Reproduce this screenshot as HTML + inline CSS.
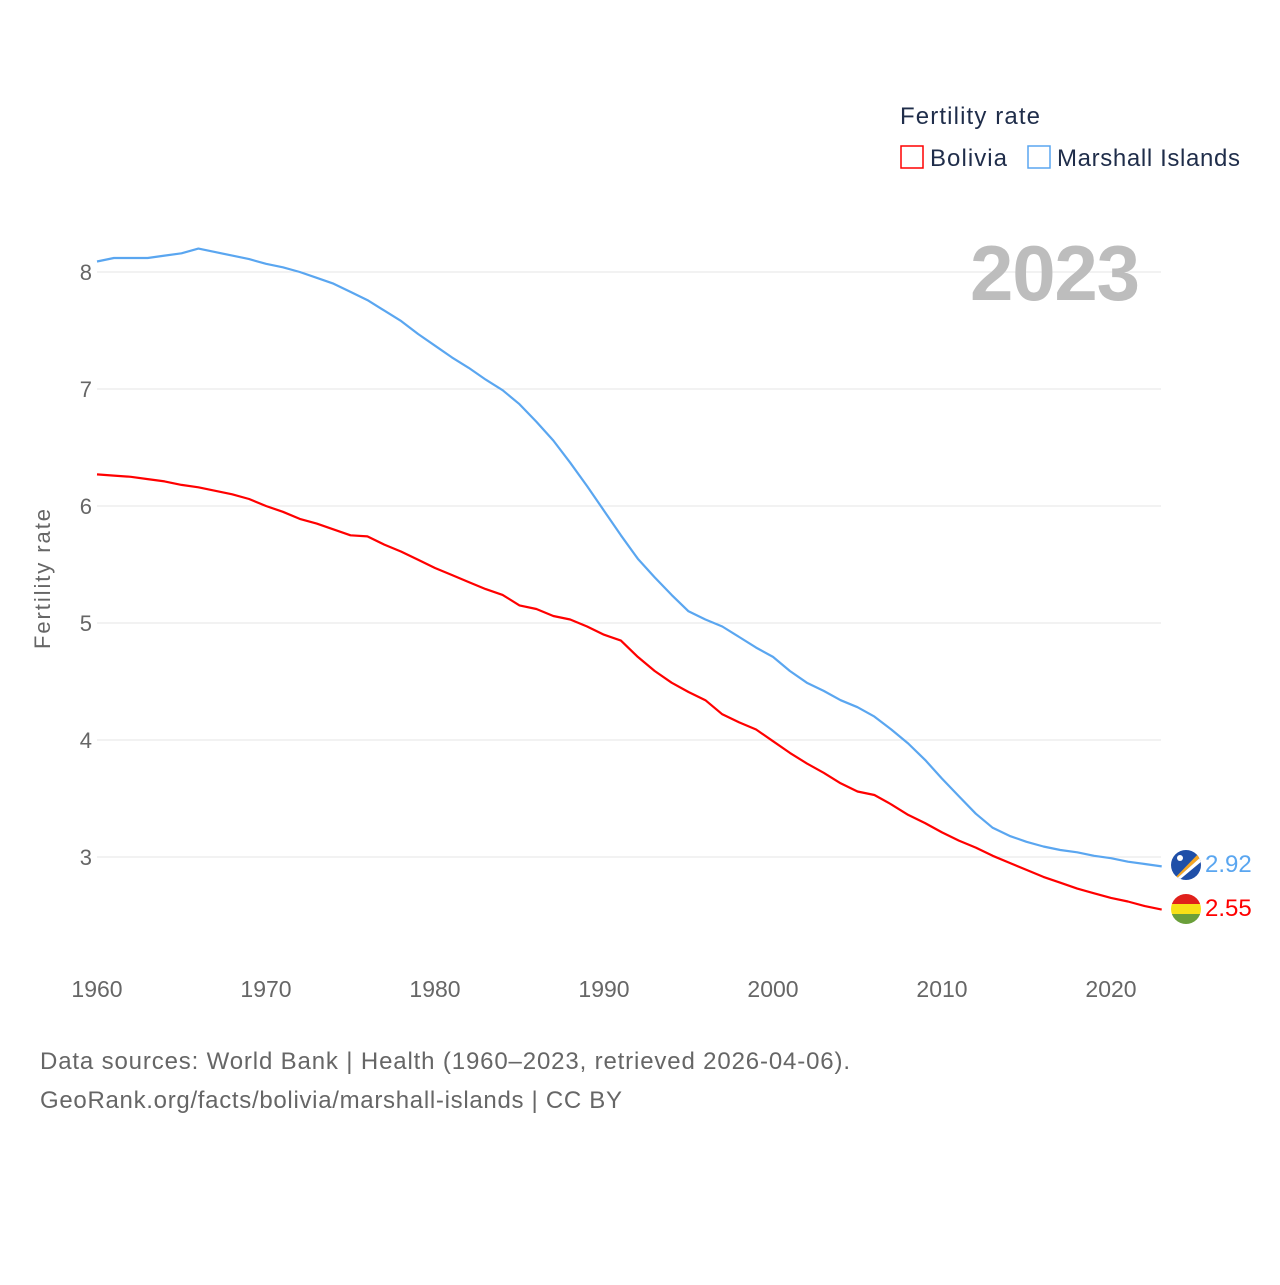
<!DOCTYPE html>
<html><head><meta charset="utf-8"><style>
body{margin:0;background:#fff;font-family:"Liberation Sans",sans-serif;}
svg text{font-family:"Liberation Sans",sans-serif;}
</style></head><body>
<svg id="chart" width="1280" height="1280" xmlns="http://www.w3.org/2000/svg">
<rect width="1280" height="1280" fill="#fff"/>
<g id="grid"></g>
<g id="yticks"></g>
<g id="xticks"></g>
<text x="1140" y="300" text-anchor="end" font-size="78" font-weight="bold" fill="#bdbdbd" textLength="170">2023</text>
<text transform="translate(50,579) rotate(-90)" text-anchor="middle" font-size="22" fill="#666" textLength="140">Fertility rate</text>
<g id="series"></g>
<g>
<text x="900" y="124" font-size="24" fill="#1f2d4a" textLength="140">Fertility rate</text>
<rect x="901" y="146" width="22" height="22" fill="none" stroke="#ff0000" stroke-width="1.5"/>
<text x="930" y="166" font-size="24" fill="#1f2d4a" textLength="77">Bolivia</text>
<rect x="1028" y="146" width="22" height="22" fill="none" stroke="#5aa6f0" stroke-width="1.5"/>
<text x="1057" y="166" font-size="24" fill="#1f2d4a" textLength="183">Marshall Islands</text>
</g>
<g>
<clipPath id="c1"><circle cx="1186" cy="865" r="15"/></clipPath>
<g clip-path="url(#c1)"><rect x="1170" y="849" width="32" height="32" fill="#1f4fa8"/>
<polygon points="1172,881 1202,850 1202,856 1174,881" fill="#f5a623"/><polygon points="1174,881 1202,856 1202,861 1178,881" fill="#fff"/>
<circle cx="1180" cy="858" r="3" fill="#fff"/></g></g>
<g>
<clipPath id="c2"><circle cx="1186" cy="909" r="15"/></clipPath>
<g clip-path="url(#c2)"><rect x="1170" y="893" width="32" height="11" fill="#e0201b"/><rect x="1170" y="904" width="32" height="10" fill="#f7e017"/><rect x="1170" y="914" width="32" height="12" fill="#6a9f3a"/></g></g>
<text x="1205" y="872" font-size="24" fill="#5aa6f0">2.92</text>
<text x="1205" y="916" font-size="24" fill="#ff0000">2.55</text>
<text x="40" y="1069" font-size="24" fill="#666" textLength="810">Data sources: World Bank | Health (1960–2023, retrieved 2026-04-06).</text>
<text x="40" y="1108" font-size="24" fill="#666" textLength="582">GeoRank.org/facts/bolivia/marshall-islands | CC BY</text>
</svg>
<script>
const years=[];for(let y=1960;y<=2023;y++)years.push(y);
const marshall=[8.09,8.12,8.12,8.12,8.14,8.16,8.20,8.17,8.14,8.11,8.07,8.04,8.00,7.95,7.90,7.83,7.76,7.67,7.58,7.47,7.37,7.27,7.18,7.08,6.99,6.87,6.72,6.56,6.37,6.17,5.96,5.75,5.55,5.39,5.24,5.10,5.03,4.97,4.88,4.79,4.71,4.59,4.49,4.42,4.34,4.28,4.20,4.09,3.97,3.83,3.67,3.52,3.37,3.25,3.18,3.13,3.09,3.06,3.04,3.01,2.99,2.96,2.94,2.92];
const bolivia=[6.27,6.26,6.25,6.23,6.21,6.18,6.16,6.13,6.10,6.06,6.00,5.95,5.89,5.85,5.80,5.75,5.74,5.67,5.61,5.54,5.47,5.41,5.35,5.29,5.24,5.15,5.12,5.06,5.03,4.97,4.90,4.85,4.71,4.59,4.49,4.41,4.34,4.22,4.15,4.09,3.99,3.89,3.80,3.72,3.63,3.56,3.53,3.45,3.36,3.29,3.21,3.14,3.08,3.01,2.95,2.89,2.83,2.78,2.73,2.69,2.65,2.62,2.58,2.55];
const yTicks=[3,4,5,6,7,8];
const xTicks=[1960,1970,1980,1990,2000,2010,2020];
const NS="http://www.w3.org/2000/svg";
const X=y=>97+(y-1960)*16.9;
const Y=v=>272+(8-v)*117;
function mk(t,a,p){const e=document.createElementNS(NS,t);for(const k in a)e.setAttribute(k,a[k]);p.appendChild(e);return e;}
const grid=document.getElementById('grid'),yt=document.getElementById('yticks'),xt=document.getElementById('xticks'),ser=document.getElementById('series');
yTicks.forEach(v=>{
const l=mk('line',{x1:97,x2:1161,y1:Y(v),y2:Y(v),stroke:'#e6e6e6','stroke-width':1},grid);


const t=mk('text',{x:92,y:Y(v)+8,'text-anchor':'end','font-size':22,fill:'#666'},yt);t.textContent=v;


});
xTicks.forEach(v=>{
const t=mk('text',{x:X(v),y:997,'text-anchor':'middle','font-size':23,fill:'#666'},xt);t.textContent=v;


});
function line(vals,color,name){
const d=vals.map((v,i)=>(i?'L':'M')+X(years[i]).toFixed(1)+','+Y(v).toFixed(1)).join('');
const p=mk('path',{d:d,fill:'none',stroke:color,'stroke-width':2.2,'stroke-linejoin':'round'},ser);


}
line(bolivia,'#ff0000','line-bolivia');
line(marshall,'#5aa6f0','line-marshall-islands');
</script>
</body></html>
